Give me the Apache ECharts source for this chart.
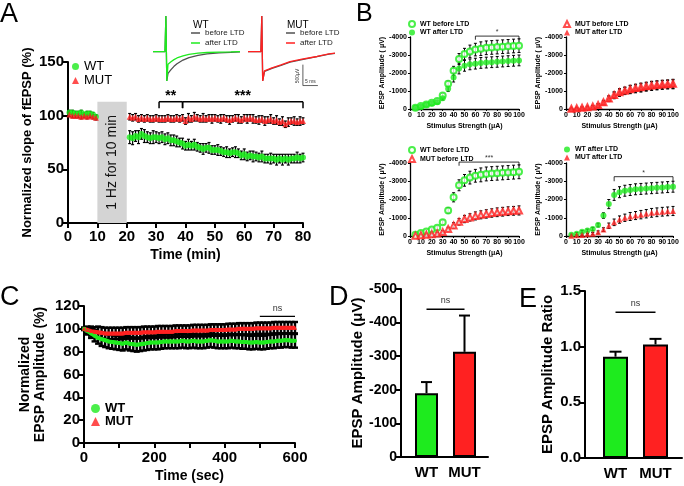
<!DOCTYPE html>
<html><head><meta charset="utf-8">
<script src="https://cdn.jsdelivr.net/npm/echarts@6/dist/echarts.min.js"></script>
<style>html,body{margin:0;padding:0;background:#fff}#c{width:684px;height:486px}</style>
</head><body><div id="c"></div>
<script>
// ================= DATA =================
// ---- Panel A: normalized fEPSP slope (%) vs time (min)
const aTimePre = [0.5,1.5,2.5,3.5,4.5,5.5,6.5,7.5,8.5,9.5];
const aWTPre = [103,103,102,102,103,101,102,102,101,99];
const aWTPreErr = [2,2,2,2,2,2,2,2,2,2];
const aMUTPre = [101,100,100,100,99,100,99,100,99,98];
const aMUTPreErr = [2,2,2,2,2,2,2,2,2,2];
const aTimePost = [21,22,23,24,25,26,27,28,29,30,31,32,33,34,35,36,37,38,39,40,41,42,43,44,45,46,47,48,49,50,51,52,53,54,55,56,57,58,59,60,61,62,63,64,65,66,67,68,69,70,71,72,73,74,75,76,77,78,79,80];
const aWTPost = [80,79,81,80,83,81,80,79,80,80,79,80,78,79,77,77,76,75,74,72,73,72,73,71,70,69,70,70,68,68,68,67,66,66,65,66,66,65,63,64,62,63,62,62,61,62,60,60,60,60,59,60,59,60,59,60,60,61,60,61];
const aWTPostErr = [6,6,5,6,5,6,5,5,6,5,5,5,5,5,5,5,5,4,5,4,5,4,5,4,4,5,4,5,4,4,5,4,4,5,4,4,5,4,4,5,4,4,5,4,4,5,4,4,5,4,5,4,5,4,5,4,4,5,4,4];
const aMUTPost = [99,98,99,97,98,97,98,97,97,98,97,97,97,98,97,97,98,97,98,95,98,97,99,98,97,98,97,98,97,98,97,97,98,97,96,97,98,97,96,98,97,98,97,96,96,97,95,96,97,95,96,94,95,92,94,95,95,94,95,95];
const aMUTPostErr = [3,3,3,3,3,3,3,3,3,3,3,3,3,3,3,3,3,3,3,3,4,3,4,3,3,4,3,3,4,3,3,4,3,3,4,3,3,4,3,3,4,3,4,3,4,3,4,3,4,3,4,3,4,3,4,3,4,3,4,3];
const aStimBox = [[10, 20, 113]];
const aStimLabel = '1 Hz for 10 min';
const aBrackets = [[31, 39, 113, -6], [39, 80, 113, -6]];
const aBracketLabels = ['**', '***'];

// ---- Panel A insets: example traces (time ms, amplitude µV)
const wtTraceTime = [0,4.0,4.3,4.6,5.0,5.3,6,7,8,10,12,15,18,22,26,29];
const wtBeforeTrace = [0,0,850,-700,-520,-480,-430,-350,-290,-200,-140,-90,-55,-30,-15,-5];
const wtAfterTrace = [0,0,850,-700,-300,-270,-240,-190,-150,-100,-65,-35,-20,-10,-5,0];
const mutTraceTime = [0,4.3,4.6,4.9,5.5,6,8,11,14,18,23,27,29];
const mutBeforeTrace = [0,0,850,-700,-470,-450,-400,-330,-250,-190,-120,-60,-40];
const mutAfterTrace = [0,0,850,-700,-460,-440,-385,-315,-240,-180,-115,-55,-35];
const scaleBarX = [18.3, 18.3, 23.3];
const scaleBarY = [-310, -810, -810];

// ---- Panel B: input-output curves (stimulus µA vs EPSP amplitude µV)
const bStim = [5,10,15,20,25,30,35,40,45,50,55,60,65,70,75,80,85,90,95,100];
const bWTBefore = [-70,-160,-250,-350,-450,-750,-1400,-2120,-2780,-3050,-3200,-3300,-3350,-3400,-3420,-3440,-3460,-3480,-3500,-3520];
const bWTBeforeErr = [40,60,80,80,100,120,150,250,300,320,350,350,380,380,380,380,380,380,380,380];
const bWTAfter = [-70,-130,-230,-300,-380,-600,-1120,-1750,-2250,-2400,-2480,-2520,-2560,-2580,-2600,-2620,-2640,-2660,-2680,-2700];
const bWTAfterErr = [40,60,70,80,90,100,150,250,300,300,300,300,300,300,300,300,300,300,300,300];
const bMUTBefore = [-20,-40,-70,-100,-140,-220,-380,-580,-780,-930,-1020,-1100,-1160,-1210,-1260,-1300,-1330,-1360,-1380,-1400];
const bMUTBeforeErr = [20,30,40,50,60,80,100,150,180,200,200,220,220,230,230,240,240,240,240,250];
const bMUTAfter = [-20,-40,-60,-90,-130,-200,-350,-560,-750,-900,-1000,-1070,-1120,-1170,-1220,-1270,-1300,-1330,-1350,-1370];
const bMUTAfterErr = [20,30,40,50,60,80,100,150,180,200,200,220,220,230,230,240,240,240,240,250];
const bBracketTL = [[60, 100, -4050, 200]];
const bBracketBL = [[45, 100, -4050, 200]];
const bBracketBR = [[45, 100, -3250, 250]];

// ---- Panel C: normalized EPSP amplitude (%) vs time (s)
const cTime = [0,10,20,30,40,50,60,70,80,90,100,110,120,130,140,150,160,170,180,190,200,210,220,230,240,250,260,270,280,290,300,310,320,330,340,350,360,370,380,390,400,410,420,430,440,450,460,470,480,490,500,510,520,530,540,550,560,570,580,590,600];
const cWT = [100,98,96,94,92,91,90,89,88.5,88,87.5,87,88,87,86.5,86,86.5,87,87.5,88,88,88,88.5,89,89,89,89,89,89.5,89,89,89.5,89,89,89,89.5,90,89.5,89,89,89,89,89.5,89,89,88.5,88.5,88,88,88.5,88,88,88.5,89,89,89.5,89.5,90,90,89.5,89.5];
const cWTErr = [1,3,4,5,5,6,6,6,6,6,6,6,6,6,6,6,6,6,6,6,6,6,6,6,6,6,6,6,6,6,6,6,6,6,6,6,6,6,6,6,6,6,6,6,6,6,6,6,6,6,6,6,6,6,6,6,6,6,6,6,6];
const cMUT = [100,99,98,97.5,97,96.5,96,96,96,96,96,96,96.5,96.5,96.5,96.5,96.5,97,97,97,97,97.5,97.5,97.5,97.5,97.5,98,98,98,98,98,98.5,98.5,98.5,98.5,98.5,99,99,99,99,99,99.5,99.5,99.5,100,100,100,100,100,100.5,100.5,100.5,100.5,100.5,101,101,101,101,101,101,101];
const cMUTErr = [1,3,4,4,5,5,5,5,5,5,5,5,5,5,5,5,5,5,5,5,5,5,5,5,5,5,5,5,5,5,5,5,5,5,5,5,5,5,5,5,5,5,5,5,5,5,5,5,5,5,5,5,5,5,5,5,5,5,5,5,5];
const cBrackets = [[500, 600, 111, 0]];

// ---- Panel D: EPSP amplitude (µV)
const dGroups = ['WT', 'MUT'];
const dVals = [-190, -313];
const dErr = [33, 108];
const dBrackets = [[0, 1, -440, 0]];

// ---- Panel E: EPSP amplitude ratio
const eGroups = ['WT', 'MUT'];
const eVals = [0.91, 1.02];
const eErr = [0.045, 0.05];
const eBrackets = [[0, 1, 1.31, 0]];

// ================= STYLE =================
const GREEN = '#1EEB1E', RED = '#FF2121', GRAYT = '#505050', BLACK = '#000';
const FONT = "'Liberation Sans', Arial, sans-serif";

function zip(xs, ys, es) { return xs.map((x, i) => es ? [x, ys[i], es[i]] : [x, ys[i]]); }

function errSeries(xi, xs, ys, es, o) {
  o = o || {};
  const cap = o.cap || 4, lw = o.lw || 1;
  return {
    type: 'custom', xAxisIndex: xi, yAxisIndex: xi, z: o.z || 2, silent: true,
    data: zip(xs, ys, es),
    renderItem: (params, api) => {
      const x = api.value(0), y = api.value(1), e = api.value(2);
      let lo, hi;
      if (o.oneSided) { lo = y; hi = y + Math.sign(y) * e; } else { lo = y - e; hi = y + e; }
      const p0 = api.coord([x, lo]), p1 = api.coord([x, hi]);
      const st = { stroke: o.color || BLACK, lineWidth: lw };
      const ch = [
        { type: 'line', shape: { x1: p0[0], y1: p0[1], x2: p1[0], y2: p1[1] }, style: st },
        { type: 'line', shape: { x1: p1[0] - cap / 2, y1: p1[1], x2: p1[0] + cap / 2, y2: p1[1] }, style: st }
      ];
      if (!o.oneSided) ch.push({ type: 'line', shape: { x1: p0[0] - cap / 2, y1: p0[1], x2: p0[0] + cap / 2, y2: p0[1] }, style: st });
      return { type: 'group', children: ch };
    }
  };
}

function bracketSeries(xi, arr, labels, o) {
  return {
    type: 'custom', xAxisIndex: xi, yAxisIndex: xi, z: 5, silent: true,
    data: arr.map(b => [b[0], b[2]]),
    renderItem: (params, api) => {
      const b = arr[params.dataIndex];
      const a = api.coord([b[0], b[2]]), c = api.coord([b[1], b[2]]);
      const st = { stroke: BLACK, lineWidth: o.lw };
      const ch = [{ type: 'line', shape: { x1: a[0], y1: a[1], x2: c[0], y2: c[1] }, style: st }];
      if (b[3] !== 0) {
        const a2 = api.coord([b[0], b[2] + b[3]]), c2 = api.coord([b[1], b[2] + b[3]]);
        ch.push({ type: 'line', shape: { x1: a[0], y1: a[1], x2: a2[0], y2: a2[1] }, style: st });
        ch.push({ type: 'line', shape: { x1: c[0], y1: c[1], x2: c2[0], y2: c2[1] }, style: st });
      }
      ch.push({ type: 'text', x: (a[0] + c[0]) / 2, y: a[1] - o.off,
        style: { text: labels[params.dataIndex], fontSize: o.fs, fontFamily: FONT, fontWeight: o.fw || 'normal', fill: o.color || BLACK, align: 'center', verticalAlign: 'middle' } });
      return { type: 'group', children: ch };
    }
  };
}

const axLine = (w) => ({ show: true, lineStyle: { color: BLACK, width: w } });
const axTick = (w, l) => ({ show: true, inside: false, length: l, lineStyle: { color: BLACK, width: w } });
const lab = (fs, m) => ({ color: BLACK, fontSize: fs, fontWeight: 'bold', fontFamily: FONT, margin: m });
const nameStyle = (fs, extra) => Object.assign({ fontSize: fs, fontWeight: 'bold', fontFamily: FONT, color: BLACK }, extra || {});

// ================= GRIDS =================
const grids = [
  { left: 68, top: 62, width: 235, height: 161 },   // 0 A
  { left: 153, top: 14, width: 87, height: 72 },    // 1 WT inset
  { left: 248, top: 14, width: 87, height: 72 },    // 2 MUT inset
  { left: 410, top: 37, width: 109, height: 72 },   // 3 B TL
  { left: 566, top: 37, width: 107, height: 72 },   // 4 B TR
  { left: 410, top: 163, width: 109, height: 73 },  // 5 B BL
  { left: 566, top: 163, width: 107, height: 73 },  // 6 B BR
  { left: 84, top: 306, width: 211, height: 137 },  // 7 C
  { left: 401, top: 289, width: 87, height: 168 },  // 8 D frame
  { left: 407.5, top: 289, width: 76, height: 168 },// 9 D bars
  { left: 585, top: 291, width: 97, height: 167 },  // 10 E frame
  { left: 595.5, top: 291, width: 80, height: 167 } // 11 E bars
];

const xAxes = [], yAxes = [];
// 0 A
xAxes.push({ gridIndex: 0, type: 'value', min: 0, max: 80, interval: 10, axisLine: axLine(2), axisTick: axTick(2, 5), axisLabel: lab(15, 6), splitLine: { show: false },
  name: 'Time (min)', nameLocation: 'middle', nameGap: 25, nameTextStyle: nameStyle(14) });
yAxes.push({ gridIndex: 0, type: 'value', min: 0, max: 150, interval: 50, axisLine: axLine(2), axisTick: axTick(2, 5), axisLabel: lab(15, 4), splitLine: { show: false },
  name: 'Normalized slope of fEPSP (%)', nameLocation: 'middle', nameGap: 34, nameRotate: 90, nameTextStyle: nameStyle(13) });
// 1,2 insets
[1, 2].forEach(g => {
  xAxes.push({ gridIndex: g, type: 'value', min: 0, max: 29, show: false });
  yAxes.push({ gridIndex: g, type: 'value', min: -820, max: 900, show: false });
});
// 3-6 B
[3, 4, 5, 6].forEach(g => {
  xAxes.push({ gridIndex: g, type: 'value', min: 0, max: 100, interval: 10, axisLine: axLine(1.3), axisTick: axTick(1, 2), axisLabel: lab(7, 3), splitLine: { show: false },
    name: 'Stimulus Strength (\u03bcA)', nameLocation: 'middle', nameGap: 14, nameTextStyle: nameStyle(7) });
  yAxes.push({ gridIndex: g, type: 'value', min: -4000, max: 0, interval: 1000, inverse: true, axisLine: axLine(1.3), axisTick: axTick(1, 2),
    axisLabel: Object.assign(lab(7, 3), { formatter: v => String(v) }), splitLine: { show: false },
    name: 'EPSP Amplitude ( \u03bcV)', nameLocation: 'middle', nameGap: 24, nameRotate: 90, nameTextStyle: nameStyle(7) });
});
// 7 C
xAxes.push({ gridIndex: 7, type: 'value', min: 0, max: 600, interval: 100, axisLine: axLine(2), axisTick: axTick(2, 5), splitLine: { show: false },
  axisLabel: Object.assign(lab(15, 7), { formatter: v => (v % 200 === 0 ? String(v) : '') }),
  name: 'Time (sec)', nameLocation: 'middle', nameGap: 26, nameTextStyle: nameStyle(14) });
yAxes.push({ gridIndex: 7, type: 'value', min: 0, max: 120, interval: 20, axisLine: axLine(2), axisTick: axTick(2, 5), axisLabel: lab(15, 4), splitLine: { show: false },
  name: 'Normalized\nEPSP Amplitude (%)', nameLocation: 'middle', nameGap: 36, nameRotate: 90, nameTextStyle: nameStyle(14, { lineHeight: 15 }) });
// 8 D frame, 9 D bars
xAxes.push({ gridIndex: 8, type: 'value', min: 0, max: 1, axisLine: axLine(2), axisTick: { show: false }, axisLabel: { show: false }, splitLine: { show: false } });
yAxes.push({ gridIndex: 8, type: 'value', min: -500, max: 0, interval: 100, inverse: true, axisLine: axLine(2), axisTick: axTick(2, 6), axisLabel: lab(14, 4), splitLine: { show: false },
  name: 'EPSP Amplitude (\u03bcV)', nameLocation: 'middle', nameGap: 34, nameRotate: 90, nameTextStyle: nameStyle(15) });
xAxes.push({ gridIndex: 9, type: 'category', data: dGroups, axisLine: { show: false }, axisTick: { show: false }, axisLabel: Object.assign(lab(15, 8), { interval: 0 }) });
yAxes.push({ gridIndex: 9, type: 'value', min: -500, max: 0, inverse: true, show: false });
// 10 E frame, 11 E bars
xAxes.push({ gridIndex: 10, type: 'value', min: 0, max: 1, axisLine: axLine(2), axisTick: { show: false }, axisLabel: { show: false }, splitLine: { show: false } });
yAxes.push({ gridIndex: 10, type: 'value', min: 0, max: 1.5, interval: 0.5, axisLine: axLine(2), axisTick: axTick(2, 6), axisLabel: Object.assign(lab(15, 4), { formatter: v => v.toFixed(1) }), splitLine: { show: false },
  name: 'EPSP Amplitude Ratio', nameLocation: 'middle', nameGap: 30, nameRotate: 90, nameTextStyle: nameStyle(15) });
xAxes.push({ gridIndex: 11, type: 'category', data: eGroups, axisLine: { show: false }, axisTick: { show: false }, axisLabel: Object.assign(lab(15, 8), { interval: 0 }) });
yAxes.push({ gridIndex: 11, type: 'value', min: 0, max: 1.5, show: false });

// ================= SERIES =================
const series = [];
// --- A
series.push({
  type: 'custom', xAxisIndex: 0, yAxisIndex: 0, z: 1, silent: true, data: aStimBox,
  renderItem: (params, api) => {
    const b = aStimBox[params.dataIndex];
    const p0 = api.coord([b[0], b[2]]), p1 = api.coord([b[1], 0]);
    return { type: 'group', children: [
      { type: 'rect', shape: { x: p0[0], y: p0[1], width: p1[0] - p0[0], height: p1[1] - p0[1] }, style: { fill: '#d4d4d4' } },
      { type: 'text', x: (p0[0] + p1[0]) / 2, y: (p0[1] + p1[1]) / 2, rotation: Math.PI / 2,
        style: { text: aStimLabel, fontSize: 14, fontFamily: FONT, fill: '#111', align: 'center', verticalAlign: 'middle' } }
    ] };
  }
});
series.push(errSeries(0, aTimePre.concat(aTimePost), aWTPre.concat(aWTPost), aWTPreErr.concat(aWTPostErr), { cap: 3, lw: 1.2 }));
series.push(errSeries(0, aTimePre.concat(aTimePost), aMUTPre.concat(aMUTPost), aMUTPreErr.concat(aMUTPostErr), { cap: 3, lw: 1.2 }));
series.push({ name: 'WT', type: 'scatter', xAxisIndex: 0, yAxisIndex: 0, z: 3, symbol: 'circle', symbolSize: 6, itemStyle: { color: GREEN }, data: zip(aTimePre.concat(aTimePost), aWTPre.concat(aWTPost)) });
series.push({ name: 'MUT', type: 'scatter', xAxisIndex: 0, yAxisIndex: 0, z: 3, symbol: 'triangle', symbolSize: 6, itemStyle: { color: RED }, data: zip(aTimePre.concat(aTimePost), aMUTPre.concat(aMUTPost)) });
series.push(bracketSeries(0, aBrackets, aBracketLabels, { lw: 1.5, off: 6, fs: 14, fw: 'bold' }));
// --- insets
const trace = (name, gi, xs, ys, color, z) => ({ name, type: 'line', xAxisIndex: gi, yAxisIndex: gi, z, symbol: 'none', silent: true, lineStyle: { color, width: 1.3 }, itemStyle: { color }, data: zip(xs, ys) });
series.push(trace('WT before trace', 1, wtTraceTime, wtBeforeTrace, GRAYT, 2));
series.push(trace('WT after trace', 1, wtTraceTime, wtAfterTrace, GREEN, 3));
series.push(trace('MUT before trace', 2, mutTraceTime, mutBeforeTrace, GRAYT, 2));
series.push(trace('MUT after trace', 2, mutTraceTime, mutAfterTrace, RED, 3));
series.push({ type: 'line', xAxisIndex: 2, yAxisIndex: 2, symbol: 'none', silent: true, lineStyle: { color: '#333', width: 0.8 }, data: zip(scaleBarX, scaleBarY) });
// --- B
const bSc = (name, gi, ys, sym, color) => ({ name, type: 'scatter', xAxisIndex: gi, yAxisIndex: gi, z: 3, symbol: sym, symbolSize: 6,
  itemStyle: { color, borderColor: color, borderWidth: sym.indexOf('empty') === 0 ? 1.2 : 0 }, data: zip(bStim, ys) });
const bE = (gi, ys, es) => errSeries(gi, bStim, ys, es, { cap: 3, lw: 1 });
series.push(bE(3, bWTBefore, bWTBeforeErr), bE(3, bWTAfter, bWTAfterErr));
series.push(bSc('WT before LTD', 3, bWTBefore, 'emptyCircle', GREEN), bSc('WT after LTD', 3, bWTAfter, 'circle', GREEN));
series.push(bracketSeries(3, bBracketTL, ['*'], { lw: 0.8, off: 4, fs: 7, color: '#333' }));
series.push(bE(4, bMUTBefore, bMUTBeforeErr), bE(4, bMUTAfter, bMUTAfterErr));
series.push(bSc('MUT before LTD', 4, bMUTBefore, 'emptyTriangle', RED), bSc('MUT after LTD', 4, bMUTAfter, 'triangle', RED));
series.push(bE(5, bWTBefore, bWTBeforeErr), bE(5, bMUTBefore, bMUTBeforeErr));
series.push(bSc('WT before LTD', 5, bWTBefore, 'emptyCircle', GREEN), bSc('MUT before LTD', 5, bMUTBefore, 'emptyTriangle', RED));
series.push(bracketSeries(5, bBracketBL, ['***'], { lw: 0.8, off: 4, fs: 7, color: '#333' }));
series.push(bE(6, bWTAfter, bWTAfterErr), bE(6, bMUTAfter, bMUTAfterErr));
series.push(bSc('WT after LTD', 6, bWTAfter, 'circle', GREEN), bSc('MUT after LTD', 6, bMUTAfter, 'triangle', RED));
series.push(bracketSeries(6, bBracketBR, ['*'], { lw: 0.8, off: 4, fs: 7, color: '#333' }));
// --- C
series.push(errSeries(7, cTime, cWT, cWTErr, { cap: 6, lw: 2.4 }));
series.push(errSeries(7, cTime, cMUT, cMUTErr, { cap: 6, lw: 2.4 }));
series.push({ name: 'WT', type: 'line', xAxisIndex: 7, yAxisIndex: 7, z: 3, symbol: 'circle', symbolSize: 4, lineStyle: { color: GREEN, width: 4 }, itemStyle: { color: GREEN }, data: zip(cTime, cWT) });
series.push({ name: 'MUT', type: 'line', xAxisIndex: 7, yAxisIndex: 7, z: 3, symbol: 'triangle', symbolSize: 4, lineStyle: { color: RED, width: 4 }, itemStyle: { color: RED }, data: zip(cTime, cMUT) });
series.push(bracketSeries(7, cBrackets, ['ns'], { lw: 1.2, off: 8, fs: 9, color: '#333' }));
// --- D
series.push({ type: 'bar', xAxisIndex: 9, yAxisIndex: 9, barWidth: 23, z: 2, silent: true,
  data: dVals.map((v, i) => ({ value: v, itemStyle: { color: i === 0 ? GREEN : RED, borderColor: BLACK, borderWidth: 2 } })) });
series.push(errSeries(9, [0, 1], dVals, dErr, { cap: 11, lw: 2, oneSided: true, z: 1 }));
series.push(bracketSeries(9, dBrackets, ['ns'], { lw: 1.5, off: 9, fs: 9, color: '#333' }));
// --- E
series.push({ type: 'bar', xAxisIndex: 11, yAxisIndex: 11, barWidth: 25, z: 2, silent: true,
  data: eVals.map((v, i) => ({ value: v, itemStyle: { color: i === 0 ? GREEN : RED, borderColor: BLACK, borderWidth: 2 } })) });
series.push(errSeries(11, [0, 1], eVals, eErr, { cap: 12, lw: 2, oneSided: true, z: 1 }));
series.push(bracketSeries(11, eBrackets, ['ns'], { lw: 1.5, off: 9, fs: 9, color: '#333' }));

// ================= LEGENDS =================
const lg = (o) => Object.assign({ orient: 'vertical', selectedMode: false, padding: 0, textStyle: { color: BLACK, fontFamily: FONT } }, o);
const legends = [
  lg({ left: 72, top: 60, itemWidth: 7, itemHeight: 7, itemGap: 1, data: [{ name: 'WT', icon: 'circle' }, { name: 'MUT', icon: 'triangle' }], textStyle: { color: BLACK, fontFamily: FONT, fontSize: 13 } }),
  lg({ left: 191, top: 29, itemWidth: 9, itemHeight: 1.5, itemGap: 2, icon: 'rect', data: ['WT before trace', 'WT after trace'], formatter: n => (n.indexOf('before') > 0 ? 'before LTD' : 'after LTD'), textStyle: { color: '#222', fontFamily: FONT, fontSize: 8 } }),
  lg({ left: 286, top: 29, itemWidth: 9, itemHeight: 1.5, itemGap: 2, icon: 'rect', data: ['MUT before trace', 'MUT after trace'], formatter: n => (n.indexOf('before') > 0 ? 'before LTD' : 'after LTD'), textStyle: { color: '#222', fontFamily: FONT, fontSize: 8 } }),
  lg({ left: 408, top: 20, itemWidth: 6, itemHeight: 6, itemGap: 1, data: [{ name: 'WT before LTD', icon: 'emptyCircle' }, { name: 'WT after LTD', icon: 'circle' }], textStyle: { color: BLACK, fontFamily: FONT, fontSize: 7, fontWeight: 'bold' } }),
  lg({ left: 563, top: 20, itemWidth: 6, itemHeight: 6, itemGap: 1, data: [{ name: 'MUT before LTD', icon: 'emptyTriangle' }, { name: 'MUT after LTD', icon: 'triangle' }], textStyle: { color: BLACK, fontFamily: FONT, fontSize: 7, fontWeight: 'bold' } }),
  lg({ left: 408, top: 146, itemWidth: 6, itemHeight: 6, itemGap: 1, data: [{ name: 'WT before LTD', icon: 'emptyCircle' }, { name: 'MUT before LTD', icon: 'emptyTriangle' }], textStyle: { color: BLACK, fontFamily: FONT, fontSize: 7, fontWeight: 'bold' } }),
  lg({ left: 564, top: 146, itemWidth: 6, itemHeight: 6, itemGap: 1, data: [{ name: 'WT after LTD', icon: 'circle' }, { name: 'MUT after LTD', icon: 'triangle' }], textStyle: { color: BLACK, fontFamily: FONT, fontSize: 7, fontWeight: 'bold' } }),
  lg({ left: 91, top: 402, itemWidth: 9, itemHeight: 9, itemGap: 0, data: [{ name: 'WT', icon: 'circle' }, { name: 'MUT', icon: 'triangle' }], textStyle: { color: BLACK, fontFamily: FONT, fontSize: 13, fontWeight: 'bold' } })
];

// ================= TEXT =================
const T = (text, x, y, fs, extra) => ({ type: 'text', x, y, style: Object.assign({ text, fontSize: fs, fontFamily: FONT, fill: BLACK }, extra || {}) });
const scaleLabel = T('500\u03bcV', 298, 76, 5, { fill: '#333', align: 'center', verticalAlign: 'middle' });
scaleLabel.rotation = Math.PI / 2;
const graphic = [
  T('A', 0, 1, 27),
  T('B', 356, 2, 25),
  T('C', 0, 284, 27),
  T('D', 329, 284, 27),
  T('E', 519, 286, 27),
  T('WT', 193, 20, 10),
  T('MUT', 287, 20, 10),
  scaleLabel,
  T('5 ms', 305, 79, 5, { fill: '#333' })
];

const chart = echarts.init(document.getElementById('c'), null, { renderer: 'canvas' });
chart.setOption({
  animation: false,
  backgroundColor: '#fff',
  grid: grids,
  xAxis: xAxes,
  yAxis: yAxes,
  legend: legends,
  series: series,
  graphic: graphic
});
</script>
</body></html>
